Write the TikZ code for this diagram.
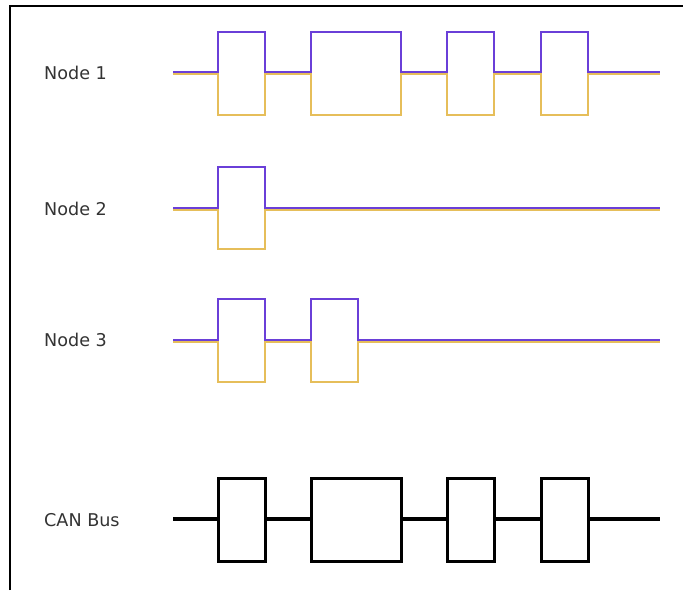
\documentclass[tikz,border=0pt]{standalone}
\usepackage{fontspec}
\setmainfont{DejaVu Sans}
\definecolor{sigpurple}{HTML}{6A3FD8}
\definecolor{siggold}{HTML}{E6BE5A}
\begin{document}
\begin{tikzpicture}[x=1pt,y=-1pt,
  lbl/.style={anchor=west,inner sep=0pt,font=\fontsize{17.6}{20}\selectfont,text=black!80},
  hi/.style={draw=sigpurple,line width=2.6pt,line join=miter},
  lo/.style={draw=siggold,line width=2.2pt,line join=miter},
  bus/.style={draw=black,line width=4.6pt},
  busbox/.style={draw=black,line width=3pt,fill=white},
  frame/.style={draw=black,line width=2pt}]
\useasboundingbox (0,0) rectangle (683,590);
\draw[frame] (10,590) -- (10,6) -- (683,6);
% labels
\node[lbl] (n1) at (44,73) {Node 1};
\node[lbl] (n2) at (44,209) {Node 2};
\node[lbl] (n3) at (44,340) {Node 3};
\node[lbl] (can) at (44,520) {CAN Bus};
% Node 1
\draw[lo] (173,74) -- (218,74) -- (218,115) -- (265,115) -- (265,74) -- (311,74) -- (311,115) -- (401,115) -- (401,74) -- (447,74) -- (447,115) -- (494,115) -- (494,74) -- (541,74) -- (541,115) -- (588,115) -- (588,74) -- (660,74);
\draw[hi] (173,72) -- (218,72) -- (218,32) -- (265,32) -- (265,72) -- (311,72) -- (311,32) -- (401,32) -- (401,72) -- (447,72) -- (447,32) -- (494,32) -- (494,72) -- (541,72) -- (541,32) -- (588,32) -- (588,72) -- (660,72);
% Node 2
\draw[lo] (173,210) -- (218,210) -- (218,249) -- (265,249) -- (265,210) -- (660,210);
\draw[hi] (173,208) -- (218,208) -- (218,167) -- (265,167) -- (265,208) -- (660,208);
% Node 3
\draw[lo] (173,342) -- (218,342) -- (218,382) -- (265,382) -- (265,342) -- (311,342) -- (311,382) -- (358,382) -- (358,342) -- (660,342);
\draw[hi] (173,340) -- (218,340) -- (218,299) -- (265,299) -- (265,340) -- (311,340) -- (311,299) -- (358,299) -- (358,340) -- (660,340);
% CAN Bus
\draw[bus] (173,519) -- (660,519);
\draw[busbox] (218,478) rectangle (265,561);
\draw[busbox] (311,478) rectangle (401,561);
\draw[busbox] (447,478) rectangle (494,561);
\draw[busbox] (541,478) rectangle (588,561);
\end{tikzpicture}
\end{document}
